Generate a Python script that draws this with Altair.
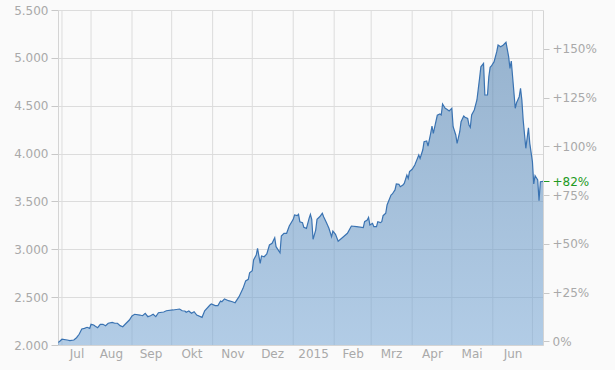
import json
import altair as alt
import pandas as pd

# ---- data ----
START = "2014-07-07"
END = "2015-07-09"
BASE = 2038  # reference level for the percent axis (0%)

day_offsets = [0, 1, 3, 7, 9, 12, 14, 16, 18, 20, 22, 24, 25, 27, 28, 30, 32, 34, 36, 38,
               41, 43, 45, 47, 49, 51, 54, 56, 58, 62, 64, 66, 68, 70, 72, 74, 76, 80, 82, 87,
               92, 94, 96, 97, 99, 101, 103, 105, 109, 111, 115, 116, 119, 121, 123, 124, 126, 129, 132, 134,
               137, 140, 142, 144, 145, 147, 148, 150, 151, 153, 154, 156, 158, 160, 162, 164, 165, 168, 169, 171,
               173, 175, 178, 179, 181, 182, 183, 185, 186, 188, 190, 191, 192, 193, 195, 196, 198, 200, 201, 203,
               205, 207, 208, 210, 212, 216, 219, 222, 226, 231, 232, 234, 235, 236, 238, 239, 241, 242, 244, 245,
               246, 248, 249, 252, 253, 255, 256, 258, 259, 261, 262, 264, 265, 266, 268, 270, 272, 273, 274, 276,
               277, 279, 280, 282, 283, 284, 287, 289, 290, 291, 293, 294, 296, 298, 299, 301, 302, 304, 305, 307,
               308, 310, 311, 312, 313, 315, 317, 319, 320, 322, 323, 325, 326, 327, 328, 330, 332, 333, 335, 337,
               339, 341, 342, 343, 344, 346, 347, 349, 350, 351, 352, 354, 356, 357, 359, 360, 361, 363, 364, 365,
               367]
values = [2030, 2034, 2060, 2052, 2045, 2052, 2076, 2112, 2167, 2174, 2185, 2174, 2216, 2209, 2198, 2181, 2216, 2216, 2202, 2227,
          2237, 2227, 2227, 2202, 2191, 2219, 2261, 2303, 2321, 2313, 2306, 2331, 2296, 2306, 2321, 2296, 2337, 2345, 2358, 2366,
          2376, 2358, 2355, 2342, 2355, 2331, 2348, 2313, 2289, 2358, 2418, 2428, 2411, 2411, 2460, 2452, 2481, 2463, 2452, 2442,
          2505, 2592, 2670, 2686, 2755, 2776, 2888, 2940, 3010, 2853, 2930, 2922, 2951, 3045, 3062, 3121, 3027, 2964, 3139, 3167,
          3167, 3243, 3313, 3358, 3351, 3365, 3288, 3278, 3230, 3219, 3323, 3365, 3313, 3104, 3201, 3313, 3340, 3376, 3340, 3282,
          3219, 3131, 3191, 3156, 3085, 3131, 3167, 3243, 3236, 3226, 3288, 3306, 3334, 3254, 3271, 3236, 3236, 3288, 3278, 3288,
          3351, 3376, 3463, 3567, 3578, 3620, 3682, 3679, 3654, 3672, 3689, 3776, 3741, 3811, 3836, 3880, 3950, 3985, 3950, 4037,
          4124, 4131, 4079, 4212, 4288, 4212, 4400, 4413, 4403, 4518, 4473, 4466, 4445, 4473, 4281, 4194, 4107, 4228, 4333, 4393,
          4379, 4368, 4298, 4274, 4403, 4455, 4560, 4786, 4907, 4942, 4612, 4612, 4803, 4901, 4915, 4960, 5064, 5134, 5116, 5134,
          5162, 5012, 4890, 4967, 4803, 4473, 4531, 4594, 4681, 4560, 4351, 4055, 4270, 4107, 3915, 3682, 3769, 3724, 3507, 3706,
          3709]

y_ticks = [2000, 2500, 3000, 3500, 4000, 4500, 5000, 5500]
pct_ticks = [0, 25, 50, 75, 100, 125, 150]
month_lines = ["2014-07-10", "2014-08-01", "2014-09-01", "2014-10-01", "2014-11-01", "2014-12-01",
               "2015-01-01", "2015-02-01", "2015-03-01", "2015-04-01", "2015-05-01", "2015-06-01",
               "2015-07-01"]
label_dates = ["2014-07-21", "2014-08-16", "2014-09-15", "2014-10-16", "2014-11-16", "2014-12-16",
               "2015-01-16", "2015-02-15", "2015-03-16", "2015-04-16", "2015-05-16", "2015-06-16"]
months_de = ["Jan", "Feb", "Mrz", "Apr", "Mai", "Jun", "Jul", "Aug", "Sep", "Okt", "Nov", "Dez"]

# ---- build table ----
start = pd.Timestamp(START)
dates = [(start + pd.Timedelta(days=d)).strftime("%Y-%m-%d") for d in day_offsets]
df = pd.DataFrame({"date": dates, "value": values})
grid_df = pd.DataFrame({"date": month_lines})

pct_last = round((values[-1] / BASE - 1) * 100, 3)
pct_domain = [(y_ticks[0] / BASE - 1) * 100, (y_ticks[-1] / BASE - 1) * 100]


def dt(s):
    t = pd.Timestamp(s)
    return alt.DateTime(year=t.year, month=t.month, date=t.day, utc=True)


LABEL_COLOR = "#a9a9a9"
FONT = "DejaVu Sans"

x_scale = alt.Scale(type="utc", domain=[dt(START), dt(END)])

x_enc = alt.X(
    "date:T",
    scale=x_scale,
    axis=alt.Axis(
        title=None,
        grid=False,
        ticks=False,
        values=[dt(s) for s in label_dates],
        labelExpr="utcmonth(datum.value) == 0 ? utcFormat(datum.value, '%Y') : "
        + json.dumps(months_de).replace('"', "'")
        + "[utcmonth(datum.value)]",
        labelPadding=3,
        domainColor="#d4d4d4",
        labelOverlap=False,
    ),
)

y_enc = alt.Y(
    "value:Q",
    scale=alt.Scale(domain=[y_ticks[0], y_ticks[-1]], nice=False, zero=False),
    axis=alt.Axis(
        title=None,
        values=y_ticks,
        labelExpr="replace(format(datum.value, ',.0f'), ',', '.')",
        grid=True,
        gridColor="#dcdcdc",
        tickSize=7,
        tickColor="#c8c8c8",
        labelPadding=3,
        domainColor="#d4d4d4",
    ),
)

rules = alt.Chart(grid_df).mark_rule(color="#dcdcdc", strokeWidth=1).encode(
    x=alt.X("date:T", scale=x_scale)
)

base = alt.Chart(df).encode(x=x_enc, y=y_enc)

area = base.mark_area(
    clip=True,
    fillOpacity=0.56,
    color=alt.Gradient(
        gradient="linear",
        stops=[
            alt.GradientStop(color="#79a8d6", offset=0),
            alt.GradientStop(color="#4a7cad", offset=1),
        ],
        x1=1, x2=1, y1=1, y2=0,
    ),
).encode(y2=alt.datum(y_ticks[0]))

line = base.mark_line(clip=True, color="#3a73b2", strokeWidth=1.2)

pct_layer = alt.Chart(df).transform_calculate(
    pct=f"(datum.value / {BASE} - 1) * 100"
).mark_line(opacity=0).encode(
    x=alt.X("date:T", scale=x_scale),
    y=alt.Y(
        "pct:Q",
        scale=alt.Scale(domain=pct_domain, nice=False, zero=False),
        axis=alt.Axis(
            title=None,
            orient="right",
            grid=False,
            values=pct_ticks + [pct_last],
            labelExpr="(datum.value > 0 ? '+' : '') + format(datum.value, '.0f') + '%'",
            labelOverlap=False,
            tickSize=6,
            tickColor={"condition": {"test": "datum.value % 25 != 0", "value": "#229922"}, "value": "#c8c8c8"},
            labelColor={"condition": {"test": "datum.value % 25 != 0", "value": "#229922"}, "value": LABEL_COLOR},
            labelPadding=3,
            domainColor="#d4d4d4",
        ),
    ),
)

chart = (
    alt.layer(alt.layer(rules, area, line), pct_layer)
    .resolve_scale(y="independent")
    .properties(
        width=485,
        height=335,
        autosize="none",
        padding={"left": 58, "top": 10, "right": 72, "bottom": 25},
        background="#fafafa",
    )
    .configure_view(stroke=None)
    .configure_axis(
        labelFont=FONT,
        labelFontSize=12,
        labelColor=LABEL_COLOR,
    )
)

chart.save("out.html", embed_options={"renderer": "svg", "actions": False})
